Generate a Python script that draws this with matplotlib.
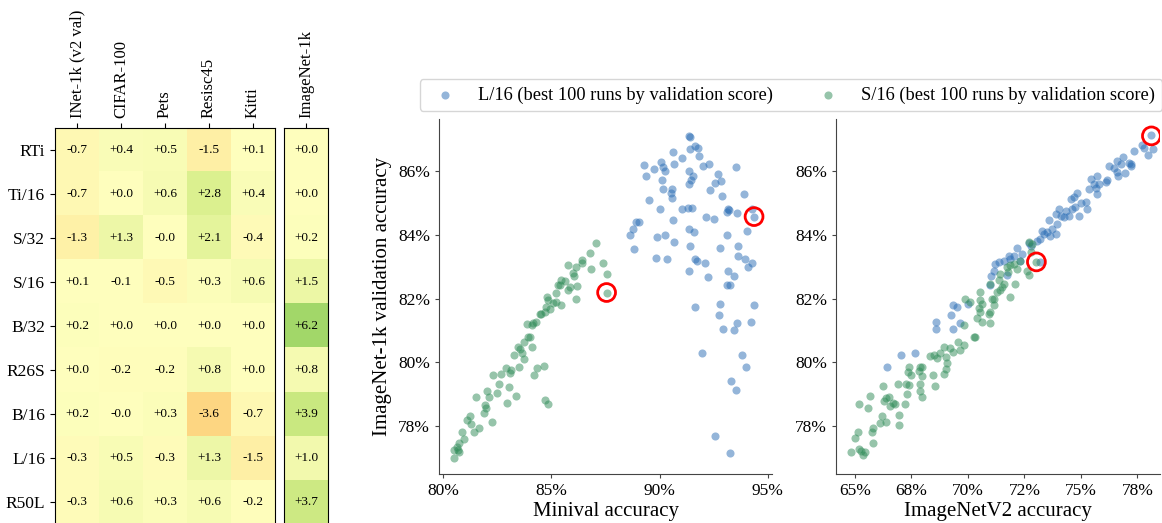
import numpy as np
import matplotlib
matplotlib.use('Agg')
import matplotlib.pyplot as plt
from matplotlib.ticker import FuncFormatter

plt.rcParams['font.family'] = ['Liberation Serif', 'DejaVu Serif']

# ---------------- heatmap data ----------------
models = ['RTi', 'Ti/16', 'S/32', 'S/16', 'B/32', 'R26S', 'B/16', 'L/16', 'R50L']
tasks = ['INet-1k (v2 val)', 'CIFAR-100', 'Pets', 'Resisc45', 'Kitti']
task_deltas = [
    [-0.7, 0.4, 0.5, -1.5, 0.1],
    [-0.7, 0.0, 0.6, 2.8, 0.4],
    [-1.3, 1.3, -0.04, 2.1, -0.4],
    [0.1, -0.1, -0.5, 0.3, 0.6],
    [0.2, 0.0, 0.0, 0.0, 0.0],
    [0.0, -0.2, -0.2, 0.8, 0.0],
    [0.2, -0.04, 0.3, -3.6, -0.7],
    [-0.3, 0.5, -0.3, 1.3, -1.5],
    [-0.3, 0.6, 0.3, 0.6, -0.2],
]
inet_label = ['ImageNet-1k']
inet_deltas = [0.0, 0.0, 0.2, 1.5, 6.2, 0.8, 3.9, 1.0, 3.7]

# ---------------- scatter data (L/16) ----------------
l16_minival = [91.34, 91.43, 91.66, 91.78, 91.82, 91.42, 90.62, 91.02, 89.28, 90.05,
               90.18, 90.26, 90.68, 92.0, 92.28, 89.75, 89.35, 90.09, 90.15, 90.58,
               90.54, 90.58, 89.51, 90.03, 91.02, 91.31, 91.48, 91.38, 91.55, 91.45,
               91.35, 92.35, 92.72, 92.83, 92.58, 92.91, 93.54, 93.89, 93.58, 93.11,
               93.17, 92.17, 92.52, 94.28, 90.6, 91.38, 91.58, 90.23, 89.88, 89.03,
               88.89, 88.77, 88.65, 88.83, 90.68, 91.43, 89.82, 90.34, 91.66, 91.74,
               92.08, 91.35, 92.25, 92.78, 93.11, 93.65, 93.62, 94.03, 93.97, 94.26,
               94.11, 93.18, 93.42, 93.12, 93.25, 91.62, 92.8, 92.77, 92.94, 93.43,
               93.57, 94.25, 94.37, 91.97, 93.83, 94.02, 93.32, 93.54, 92.55, 93.25,
               94.37, 93.2]
l16_val_a = [87.10, 87.08, 86.78, 86.71, 86.48, 86.68, 86.59, 86.42, 86.20, 86.27,
             86.14, 86.01, 86.22, 86.16, 86.23, 86.07, 85.84, 85.72, 85.44, 85.42,
             85.30, 85.16, 85.09, 84.80, 84.81, 84.83, 84.83, 86.0, 85.85, 85.71,
             85.59, 85.41, 85.91, 85.70, 85.61, 85.23, 86.14, 85.28, 84.67, 84.71,
             84.81, 84.56, 84.51, 84.81, 84.46, 84.17, 84.10, 84.0, 83.92, 84.40,
             84.40, 84.18, 83.99, 83.56, 83.78, 83.64, 83.27, 83.23, 83.25, 83.18,
             83.13, 82.87, 82.68, 83.60, 84.0, 83.66, 83.34, 84.13, 83.25, 83.10,
             82.98, 82.86, 82.70, 82.41, 82.41, 81.74, 81.84, 81.48, 81.05, 81.03,
             81.23, 81.26, 81.79, 80.28, 80.22, 79.87, 79.41, 79.13, 77.70, 77.17,
             84.57, 84.78]
l16_v2 = [78.09, 77.72, 77.80, 78.17, 77.97, 77.35, 76.88, 77.20, 77.23, 77.13,
          76.61, 76.76, 76.24, 76.46, 76.58, 76.64, 76.94, 75.72, 75.43, 75.58,
          75.65, 75.72, 75.36, 75.80, 76.09, 76.17, 74.84, 74.69, 74.54, 74.99,
          75.21, 74.76, 74.62, 75.28, 74.32, 74.02, 73.88, 74.10, 74.25, 74.47,
          74.91, 73.58, 73.95, 73.73, 73.51, 73.28, 73.36, 73.88, 73.65, 73.21,
          73.06, 72.69, 72.77, 72.17, 72.40, 72.03, 71.80, 71.88, 71.58, 71.36,
          72.32, 71.73, 71.14, 71.02, 70.96, 73.21, 70.0, 69.33, 69.51, 69.26,
          68.59, 68.57, 69.36, 69.66, 67.04, 67.65, 66.41, 71.21]
l16_val_b = [87.12, 86.81, 86.73, 86.70, 86.50, 86.62, 86.44, 86.21, 86.16, 86.26,
             86.31, 86.21, 86.16, 86.10, 85.98, 85.84, 85.93, 85.84, 85.74, 85.58,
             85.48, 85.27, 85.43, 85.58, 85.64, 85.71, 85.32, 85.17, 85.12, 85.01,
             85.04, 84.86, 84.81, 84.81, 84.75, 84.81, 84.65, 84.60, 84.55, 84.60,
             84.60, 84.46, 84.34, 84.18, 84.08, 84.11, 84.01, 84.03, 83.97, 83.87,
             83.80, 83.74, 83.66, 83.59, 83.40, 83.35, 83.35, 83.25, 83.19, 83.14,
             83.19, 82.73, 82.88, 82.70, 82.42, 83.14, 81.84, 81.81, 81.74, 81.50,
             81.27, 81.06, 81.04, 81.24, 80.23, 80.29, 79.87, 83.09]

# ---------------- scatter data (S/16) ----------------
s16_minival = [87.08, 86.77, 87.38, 86.43, 86.42, 85.77, 86.12, 86.0, 86.82, 86.03,
               87.55, 86.18, 85.78, 85.29, 85.38, 85.65, 85.23, 85.42, 86.15, 84.8,
               84.85, 84.77, 85.2, 84.92, 84.49, 84.54, 84.69, 84.28, 84.15, 83.89,
               84.08, 84.0, 84.12, 83.75, 83.46, 83.54, 83.63, 83.72, 83.25, 82.89,
               83.08, 83.49, 82.69, 82.31, 84.66, 84.34, 84.2, 82.58, 83.02, 82.46,
               82.02, 82.11, 81.49, 81.94, 81.97, 81.88, 82.94, 83.34, 82.26, 81.25,
               81.28, 81.42, 81.65, 80.86, 80.95, 80.72, 80.69, 80.48, 80.72, 80.49,
               84.71, 84.86, 87.55, 85.46, 85.85, 85.08, 83.92, 83.15, 81.08, 80.62]
s16_val_a = [83.73, 83.42, 83.13, 83.21, 83.12, 83.05, 83.0, 82.79, 82.94, 82.70,
             82.76, 82.39, 82.27, 82.41, 82.41, 82.54, 82.16, 81.79, 82.0, 82.04,
             81.95, 81.74, 81.90, 81.66, 81.53, 81.53, 81.59, 81.26, 81.24, 81.20,
             81.17, 80.80, 80.47, 80.64, 80.47, 80.42, 80.28, 80.12, 80.23, 79.81,
             79.67, 79.84, 79.65, 79.60, 79.88, 79.82, 79.61, 79.32, 79.23, 79.04,
             79.09, 78.92, 78.90, 78.66, 78.58, 78.40, 78.73, 78.95, 78.14, 78.32,
             78.08, 77.82, 77.93, 77.82, 77.61, 77.47, 77.24, 77.24, 77.18, 77.0,
             78.83, 78.68, 82.19, 82.58, 82.37, 81.85, 80.78, 79.76, 78.19, 77.35]
s16_v2 = [72.69, 72.84, 72.77, 72.62, 72.69, 72.17, 72.03, 71.88, 72.32, 71.73,
          71.76, 71.43, 71.36, 71.51, 71.43, 71.29, 70.99, 71.14, 71.88, 72.10,
          71.58, 70.55, 70.55, 70.62, 70.47, 70.40, 70.62, 70.99, 69.88, 70.10,
          70.55, 70.92, 71.14, 71.07, 69.81, 69.66, 70.25, 70.33, 69.81, 69.36,
          68.92, 68.77, 68.62, 68.48, 69.07, 70.99, 69.56, 69.19, 69.04, 68.30,
          67.97, 67.88, 67.41, 67.34, 67.49, 67.83, 67.97, 68.45, 69.04, 68.96,
          68.55, 67.86, 67.86, 67.97, 67.29, 67.23, 66.89, 66.23, 65.67, 65.19,
          65.56, 66.38, 66.52, 66.30, 66.67, 66.75, 66.55, 66.97, 66.20, 66.38,
          66.11, 66.94, 65.78, 65.75, 65.12, 65.01, 65.78, 64.82, 65.19, 65.27,
          65.46, 65.34, 67.26, 67.38, 73.03]
s16_val_b = [83.77, 83.71, 83.45, 82.88, 82.73, 82.94, 83.09, 83.04, 83.19, 82.99,
             82.83, 82.78, 82.57, 82.36, 82.26, 82.21, 82.47, 82.0, 82.05, 82.47,
             82.47, 82.21, 81.95, 81.84, 81.71, 81.38, 81.27, 81.22, 82.0, 81.90,
             81.58, 81.53, 81.79, 82.0, 81.17, 80.39, 80.81, 80.81, 80.55, 80.34,
             80.49, 80.29, 80.13, 80.23, 79.97, 81.58, 80.65, 80.44, 80.18, 80.21,
             79.84, 79.84, 79.84, 79.69, 79.61, 79.73, 79.56, 79.59, 79.80, 79.63,
             79.25, 79.32, 79.09, 78.90, 79.01, 78.70, 79.32, 79.25, 78.94, 78.68,
             78.57, 78.88, 78.90, 78.78, 78.73, 78.68, 78.62, 78.36, 78.31, 78.14,
             78.10, 78.05, 77.95, 77.81, 77.82, 77.62, 77.48, 77.19, 77.27, 77.22,
             77.19, 77.09, 79.32, 79.30, 83.16]

# highlighted runs (red circles)
hl_minival = [87.55, 94.37]
hl_val_a = [82.19, 84.57]
hl_v2 = [73.03, 78.12]
hl_val_b = [83.15, 87.10]

blue = '#2a6db5'
green = '#2e8b57'
W, H = 1162, 523

fig = plt.figure(figsize=(W / 100, H / 100), dpi=100)

# ---------------- heatmaps ----------------
hm_top = 1 - 128 / H
hm_h = 396 / H
ax_h = fig.add_axes([55 / W, hm_top - hm_h, 220 / W, hm_h])
ax_i = fig.add_axes([284 / W, hm_top - hm_h, 44 / W, hm_h])

data = np.array(task_deltas)
ax_h.imshow(data, cmap='RdYlGn', vmin=-15, vmax=15, aspect='auto')
for r in range(data.shape[0]):
    for c in range(data.shape[1]):
        ax_h.text(c, r, f'{data[r, c]:+.1f}', ha='center', va='center', fontsize=9.5)
ax_h.set_yticks(range(len(models)))
ax_h.set_yticklabels(models, fontsize=12.5)
ax_h.set_xticks(range(len(tasks)))
ax_h.set_xticklabels(tasks, rotation=90, fontsize=12)
ax_h.xaxis.tick_top()

inet = np.array(inet_deltas).reshape(-1, 1)
ax_i.imshow(inet, cmap='RdYlGn', vmin=-15, vmax=15, aspect='auto')
for r in range(inet.shape[0]):
    ax_i.text(0, r, f'{inet[r, 0]:+.1f}', ha='center', va='center', fontsize=9.5)
ax_i.set_yticks([])
ax_i.set_xticks([0])
ax_i.set_xticklabels(inet_label, rotation=90, fontsize=12)
ax_i.xaxis.tick_top()

# ---------------- scatter plots ----------------
sc_bottom = 1 - 474 / H
sc_h = 355 / H
ax1 = fig.add_axes([439 / W, sc_bottom, 333 / W, sc_h])
ax2 = fig.add_axes([836 / W, sc_bottom, 324 / W, sc_h], sharey=ax1)

h1 = ax1.scatter(l16_minival, l16_val_a, s=34, color=blue, alpha=0.5, linewidths=0,
                 label='L/16 (best 100 runs by validation score)')
h2 = ax1.scatter(s16_minival, s16_val_a, s=34, color=green, alpha=0.5, linewidths=0,
                 label='S/16 (best 100 runs by validation score)')
ax1.scatter(hl_minival, hl_val_a, s=165, facecolors='none', edgecolors='red', linewidths=2)

ax2.scatter(l16_v2, l16_val_b, s=34, color=blue, alpha=0.5, linewidths=0)
ax2.scatter(s16_v2, s16_val_b, s=34, color=green, alpha=0.5, linewidths=0)
ax2.scatter(hl_v2, hl_val_b, s=165, facecolors='none', edgecolors='red', linewidths=2)

pct = FuncFormatter(lambda v, pos: f'{v:.0f}%')
ax1.set_xlim(79.8, 95.2)
ax1.set_ylim(76.5, 87.63)
ax1.set_xticks([80, 85, 90, 95])
ax1.set_yticks([78, 80, 82, 84, 86])
ax2.set_xlim(64.16, 78.5)
ax2.set_xticks([65, 67.5, 70, 72.5, 75, 77.5])
for ax in (ax1, ax2):
    ax.xaxis.set_major_formatter(pct)
    ax.yaxis.set_major_formatter(pct)
    ax.spines['top'].set_visible(False)
    ax.spines['right'].set_visible(False)
    ax.spines['left'].set_color('#444444')
    ax.spines['bottom'].set_color('#444444')
    ax.tick_params(labelsize=12.5, length=3, color='#444444')
ax1.set_xlabel('Minival accuracy', fontsize=15, labelpad=2)
ax1.set_ylabel('ImageNet-1k validation accuracy', fontsize=15)
ax2.set_xlabel('ImageNetV2 accuracy', fontsize=15, labelpad=2)

fig.legend(handles=[h1, h2], loc='upper center', ncol=2, fontsize=13.2,
           bbox_to_anchor=(791 / W, 1 - 70 / H), frameon=True, edgecolor='#cccccc')

fig.savefig('out.png', dpi=100)
